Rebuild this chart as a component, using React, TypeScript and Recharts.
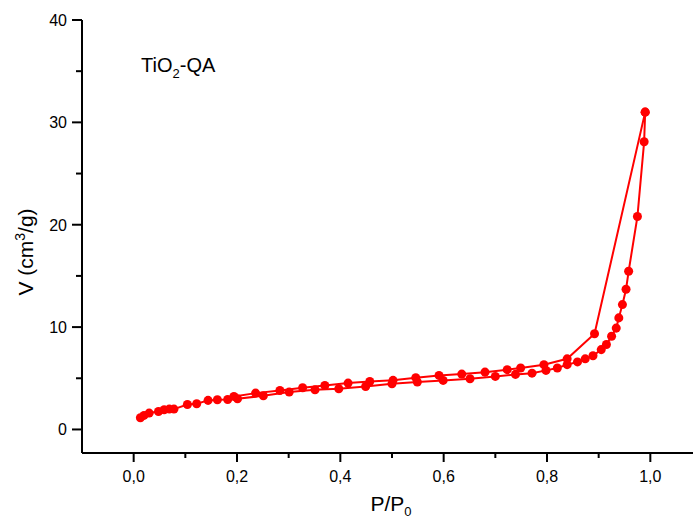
import { ScatterChart, Scatter, XAxis, YAxis, ZAxis } from "recharts";

// adsorption branch (P/P0, V)
const adsP = [
  0.013, 0.02, 0.03, 0.048, 0.059, 0.069, 0.078, 0.104, 0.122, 0.144, 0.162,
  0.182, 0.201, 0.251, 0.301, 0.351, 0.397, 0.449, 0.5, 0.549, 0.599, 0.651,
  0.7, 0.739, 0.771, 0.798, 0.82, 0.839, 0.859, 0.874, 0.889, 0.905, 0.915,
  0.925, 0.934, 0.939, 0.946, 0.953, 0.958, 0.975, 0.988, 0.99,
];
const adsV = [
  1.14, 1.37, 1.6, 1.76, 1.93, 1.99, 1.99, 2.44, 2.51, 2.84, 2.9, 2.93, 3.0,
  3.29, 3.65, 3.88, 3.98, 4.2, 4.47, 4.63, 4.79, 4.96, 5.18, 5.38, 5.5, 5.77,
  6.0, 6.33, 6.6, 6.9, 7.2, 7.8, 8.3, 9.1, 9.9, 10.9, 12.2, 13.7, 15.45, 20.8,
  28.1, 31.0,
];

// desorption branch
const desP = [
  0.99, 0.892, 0.839, 0.794, 0.749, 0.723, 0.68, 0.635, 0.591, 0.546, 0.502,
  0.457, 0.415, 0.37, 0.327, 0.283, 0.236, 0.194,
];
const desV = [
  31.0, 9.35, 6.9, 6.33, 6.0, 5.84, 5.6, 5.41, 5.28, 5.06, 4.8, 4.69, 4.53,
  4.3, 4.08, 3.81, 3.55, 3.23,
];

const xTicks = [0, 0.1, 0.2, 0.3, 0.4, 0.5, 0.6, 0.7, 0.8, 0.9, 1.0];
const yTicks = [0, 5, 10, 15, 20, 25, 30, 35, 40];

const ads = adsP.map((p, i) => ({ p, v: adsV[i] }));
const des = desP.map((p, i) => ({ p, v: desV[i] }));

const font = "'Liberation Sans', Arial, sans-serif";
const red = "#ff0000";

const XTick = (props: any) => {
  const { x, y, payload } = props;
  const val = payload.value;
  const major = Math.round(val * 10) % 2 === 0;
  return (
    <g>
      <line x1={x} x2={x} y1={y} y2={y + (major ? 9 : 5)} stroke="#000" strokeWidth={2} />
      {major && (
        <text x={x} y={y + 29} textAnchor="middle" fontSize={16} fontFamily={font} fill="#000">
          {val.toFixed(1).replace(".", ",")}
        </text>
      )}
    </g>
  );
};

const YTick = (props: any) => {
  const { x, y, payload } = props;
  const val = payload.value;
  const major = val % 10 === 0;
  return (
    <g>
      <line x1={x - (major ? 10 : 6)} x2={x} y1={y} y2={y} stroke="#000" strokeWidth={2} />
      {major && (
        <text x={x - 15} y={y + 6} textAnchor="end" fontSize={16} fontFamily={font} fill="#000">
          {val}
        </text>
      )}
    </g>
  );
};

export default function App() {
  return (
    <div
      style={{
        position: "absolute",
        left: 0,
        top: 0,
        width: 693,
        height: 520,
        overflow: "hidden",
        background: "#fff",
      }}
    >
      <ScatterChart width={712} height={520} margin={{ top: 20, right: 10, bottom: 7, left: 22 }}>
        <XAxis
          type="number"
          dataKey="p"
          domain={[-0.1, 1.1]}
          ticks={xTicks}
          interval={0}
          tickSize={0}
          tickMargin={0}
          tickLine={false}
          tick={<XTick />}
          height={60}
          axisLine={{ stroke: "#000", strokeWidth: 2 }}
          allowDataOverflow
        />
        <YAxis
          type="number"
          dataKey="v"
          domain={[-2.3, 40]}
          ticks={yTicks}
          interval={0}
          tickSize={0}
          tickMargin={0}
          tickLine={false}
          tick={<YTick />}
          width={60}
          axisLine={{ stroke: "#000", strokeWidth: 2 }}
          allowDataOverflow
        />
        <ZAxis range={[80, 80]} />
        <Scatter
          data={ads}
          fill={red}
          line={{ stroke: red, strokeWidth: 2 }}
          lineType="joint"
          isAnimationActive={false}
        />
        <Scatter
          data={des}
          fill={red}
          line={{ stroke: red, strokeWidth: 2 }}
          lineType="joint"
          isAnimationActive={false}
        />
      </ScatterChart>
      <svg
        width={693}
        height={520}
        style={{ position: "absolute", left: 0, top: 0, pointerEvents: "none" }}
        fontFamily={font}
      >
        <text x={141} y={72} fontSize={20} fill="#000">
          TiO
          <tspan fontSize={13} dy={6}>2</tspan>
          <tspan dy={-6}>-QA</tspan>
        </text>
        <text x={391} y={511} fontSize={21} textAnchor="middle" fill="#000">
          P/P
          <tspan fontSize={13} dy={5}>0</tspan>
        </text>
        <text
          x={33}
          y={252}
          fontSize={21}
          textAnchor="middle"
          fill="#000"
          transform="rotate(-90, 33, 252)"
        >
          V (cm
          <tspan fontSize={14} dy={-8}>3</tspan>
          <tspan dy={8}>/g)</tspan>
        </text>
      </svg>
    </div>
  );
}
